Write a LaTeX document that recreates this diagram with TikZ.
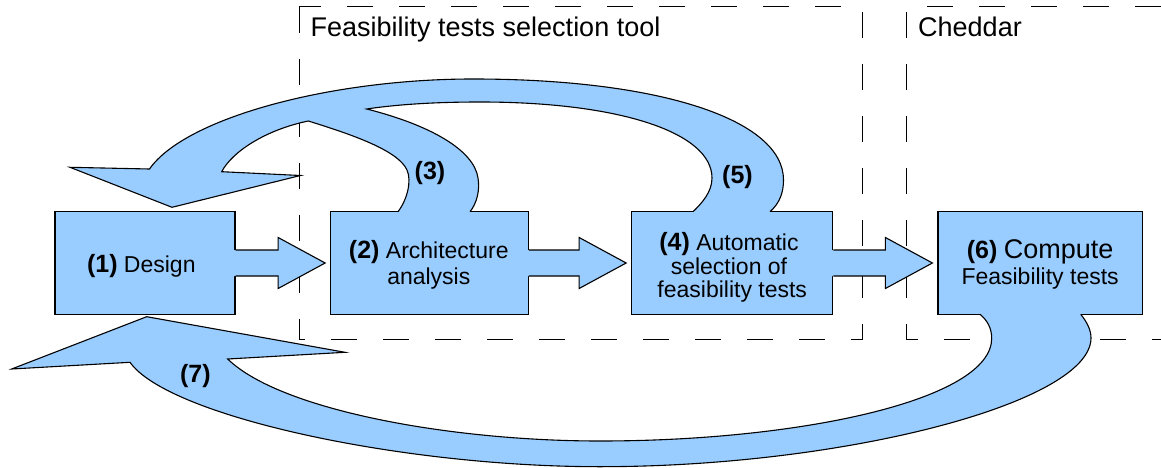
\documentclass[tikz,border=0pt]{standalone}
\usepackage{fontspec}
\setmainfont{Liberation Sans}
\usetikzlibrary{calc}
\definecolor{boxblue}{HTML}{99CCFF}

% bold step number inside the boxes
\newcommand\numlbl[1]{{\fontsize{25}{26}\selectfont\bfseries #1}}

% straight block arrow from the right side of one box to the left side of the next
\newcommand\flatarrow[2]{%
  \fill[afill] ($(#1.east)+(-1.5,-13)$) -- ($(#2.west)+(-52,-13)$) -- ($(#2.west)+(-52,-25.5)$)
    -- ($(#2.west)+(-5,0)$) -- ($(#2.west)+(-52,25.5)$) -- ($(#2.west)+(-52,13)$)
    -- ($(#1.east)+(-1.5,13)$) -- cycle;
  \draw[aline] ($(#1.east)+(0,-13)$) -- ($(#2.west)+(-52,-13)$) -- ($(#2.west)+(-52,-25.5)$)
    -- ($(#2.west)+(-5,0)$) -- ($(#2.west)+(-52,25.5)$) -- ($(#2.west)+(-52,13)$)
    -- ($(#1.east)+(0,13)$);}

\begin{document}
\begin{tikzpicture}[x=1pt, y=-1pt,
  dashframe/.style={draw=black, line width=1pt, dash pattern=on 26pt off 26pt},
  stage/.style={draw=black, fill=boxblue, line width=1.1pt, minimum height=102.6pt, inner sep=0pt},
  stagetext/.style={align=center, inner sep=0pt, font=\fontsize{23}{26}\selectfont},
  titletext/.style={anchor=base west, inner sep=0pt, font=\fontsize{27}{30}\selectfont},
  steplabel/.style={inner sep=0pt, font=\fontsize{25}{26}\selectfont\bfseries},
  afill/.style={fill=boxblue},
  aline/.style={draw=black, line width=1.1pt, line join=miter},
]
\useasboundingbox (0,0) rectangle (1161,468);

% tool boundaries
\draw[dashframe] (299.3,6.7) rectangle (862,339);
\draw[dashframe] (1161,6.7) -- (906.7,6.7) -- (906.7,339) -- (1161,339);
\node[titletext] (ftool) at (310.5,37) {Feasibility tests selection tool};
\node[titletext] (ched) at (918,36.7) {Cheddar};

% process steps
\node[stage, minimum width=180pt]   (b1) at (145,263) {};
\node[stage, minimum width=197.6pt] (b2) at (429.5,263) {};
\node[stage, minimum width=201pt]   (b4) at (732.2,263) {};
\node[stage, minimum width=204.3pt] (b6) at (1040.1,263) {};

% forward flow
\flatarrow{b1}{b2}
\flatarrow{b2}{b4}
\flatarrow{b4}{b6}

% feedback from steps (3) and (5) back to the design: body, then its outline
\fill[afill] (770,213.5) -- (770,211.7)
  .. controls (780,203) and (783.5,192) .. (783.5,180)
  .. controls (783.5,119.4) and (659.3,79) .. (473,79)
  .. controls (330,79) and (185,118) .. (149.5,169)
  -- (70,167.3) -- (172,207.3) -- (300.5,175.5) -- (221.7,171.7)
  .. controls (232,152) and (265,130) .. (308.3,121)
  .. controls (350,134) and (398,150) .. (407,170)
  .. controls (412,181) and (407,200) .. (398,211.7)
  -- (398,213.5) -- (470,213.5) -- (470,211.7)
  .. controls (477,203) and (480,190) .. (478,178)
  .. controls (474,150) and (430,125) .. (366.7,109)
  .. controls (400,104) and (440,102) .. (480,102)
  .. controls (619.2,102) and (712,132.4) .. (712,178)
  .. controls (712,192) and (702,203) .. (693,211.7)
  -- (693,213.5) -- cycle;
\draw[aline] (770,211.7)
  .. controls (780,203) and (783.5,192) .. (783.5,180)
  .. controls (783.5,119.4) and (659.3,79) .. (473,79)
  .. controls (330,79) and (185,118) .. (149.5,169)
  -- (70,167.3) -- (172,207.3) -- (300.5,175.5) -- (221.7,171.7)
  .. controls (232,152) and (265,130) .. (308.3,121)
  .. controls (350,134) and (398,150) .. (407,170)
  .. controls (412,181) and (407,200) .. (398,211.7);
\draw[aline] (470,211.7)
  .. controls (477,203) and (480,190) .. (478,178)
  .. controls (474,150) and (430,125) .. (366.7,109)
  .. controls (400,104) and (440,102) .. (480,102)
  .. controls (619.2,102) and (712,132.4) .. (712,178)
  .. controls (712,192) and (702,203) .. (693,211.7);

% feedback from step (6) back to the design: body, then its outline
\fill[afill] (1080.7,312.5) -- (1080.7,314.3)
  .. controls (1087,322) and (1091,330) .. (1091,338)
  .. controls (1091,402.4) and (845.5,466.7) .. (600,466.7)
  .. controls (400,466.7) and (168,416) .. (130,362.3)
  -- (11.7,369) -- (146.7,316.7) -- (345,352.3) -- (227.7,359)
  .. controls (280,410) and (450,441) .. (600,441)
  .. controls (800,441) and (991.7,400) .. (991.7,338.3)
  .. controls (991.7,328) and (987,320) .. (980,314.3)
  -- (980,312.5) -- cycle;
\draw[aline] (1080.7,314.3)
  .. controls (1087,322) and (1091,330) .. (1091,338)
  .. controls (1091,402.4) and (845.5,466.7) .. (600,466.7)
  .. controls (400,466.7) and (168,416) .. (130,362.3)
  -- (11.7,369) -- (146.7,316.7) -- (345,352.3) -- (227.7,359)
  .. controls (280,410) and (450,441) .. (600,441)
  .. controls (800,441) and (991.7,400) .. (991.7,338.3)
  .. controls (991.7,328) and (987,320) .. (980,314.3);

% step texts
\node[stagetext] (t1) at ($(b1.center)+(-3.7,3)$) {\numlbl{(1)} Design};
\node[stagetext] (t2) at ($(b2.center)+(-0.7,1.5)$) {\numlbl{(2)} Architecture\\analysis};
\node[stagetext, font=\fontsize{23}{23.2}\selectfont] (t4) at ($(b4.center)+(0,4.5)$)
  {\numlbl{(4)} Automatic\rule{6.5pt}{0pt}\\selection of\rule{6.5pt}{0pt}\\feasibility tests};
\node[stagetext] (t6) at ($(b6.center)+(0,1.5)$) {\numlbl{(6)} {\fontsize{27}{26}\selectfont Compute}\\Feasibility tests};

% feedback labels
\node[steplabel] (l3) at (430,173) {(3)};
\node[steplabel] (l5) at (737.5,176.7) {(5)};
\node[steplabel] (l7) at (195.3,376.3) {(7)};
\end{tikzpicture}
\end{document}
